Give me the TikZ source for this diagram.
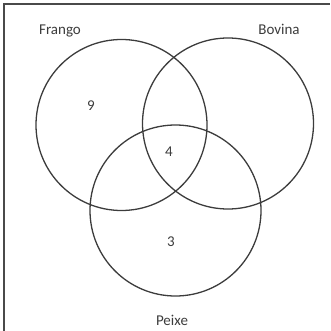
\documentclass[tikz,border=0pt]{standalone}
\usepackage{fontspec}
\setmainfont{Carlito}
\definecolor{ink}{HTML}{3C3C3C}
\definecolor{frame}{HTML}{4A4A4A}
\usetikzlibrary{positioning}
\tikzset{
  ring/.style={draw=ink,line width=1.3pt},
  setname/.style={text=ink,font=\fontsize{15}{18}\selectfont,inner sep=0pt},
  count/.style={setname}
}

\begin{document}
\begin{tikzpicture}[x=1pt,y=-1pt]
      \useasboundingbox (0,0) rectangle (330,331);
      % frame (left and top edges only)
      \draw[frame,line width=1.6pt] (4,331) -- (4,4) -- (330,4);
      % sets
      \coordinate (fra) at (121.5,125);
      \coordinate (bov) at (228,123.5);
      \coordinate (pei) at (175.5,210.5);
      \draw[ring] (fra) circle (85.5);
      \draw[ring] (bov) circle (85.5);
      \draw[ring] (pei) circle (85.5);
      \node[setname] (lfra) at (60,31) {Frango};
      \node[setname] (lbov) at (279,29) {Bovina};
      \node[setname] (lpei) at (172,320) {Peixe};
      \node[count] (nfra) at (91,106) {9};
      \node[count] (nall) at (169,152) {4};
      \node[count] (npei) at (171,242) {3};
    \end{tikzpicture}
\end{document}
